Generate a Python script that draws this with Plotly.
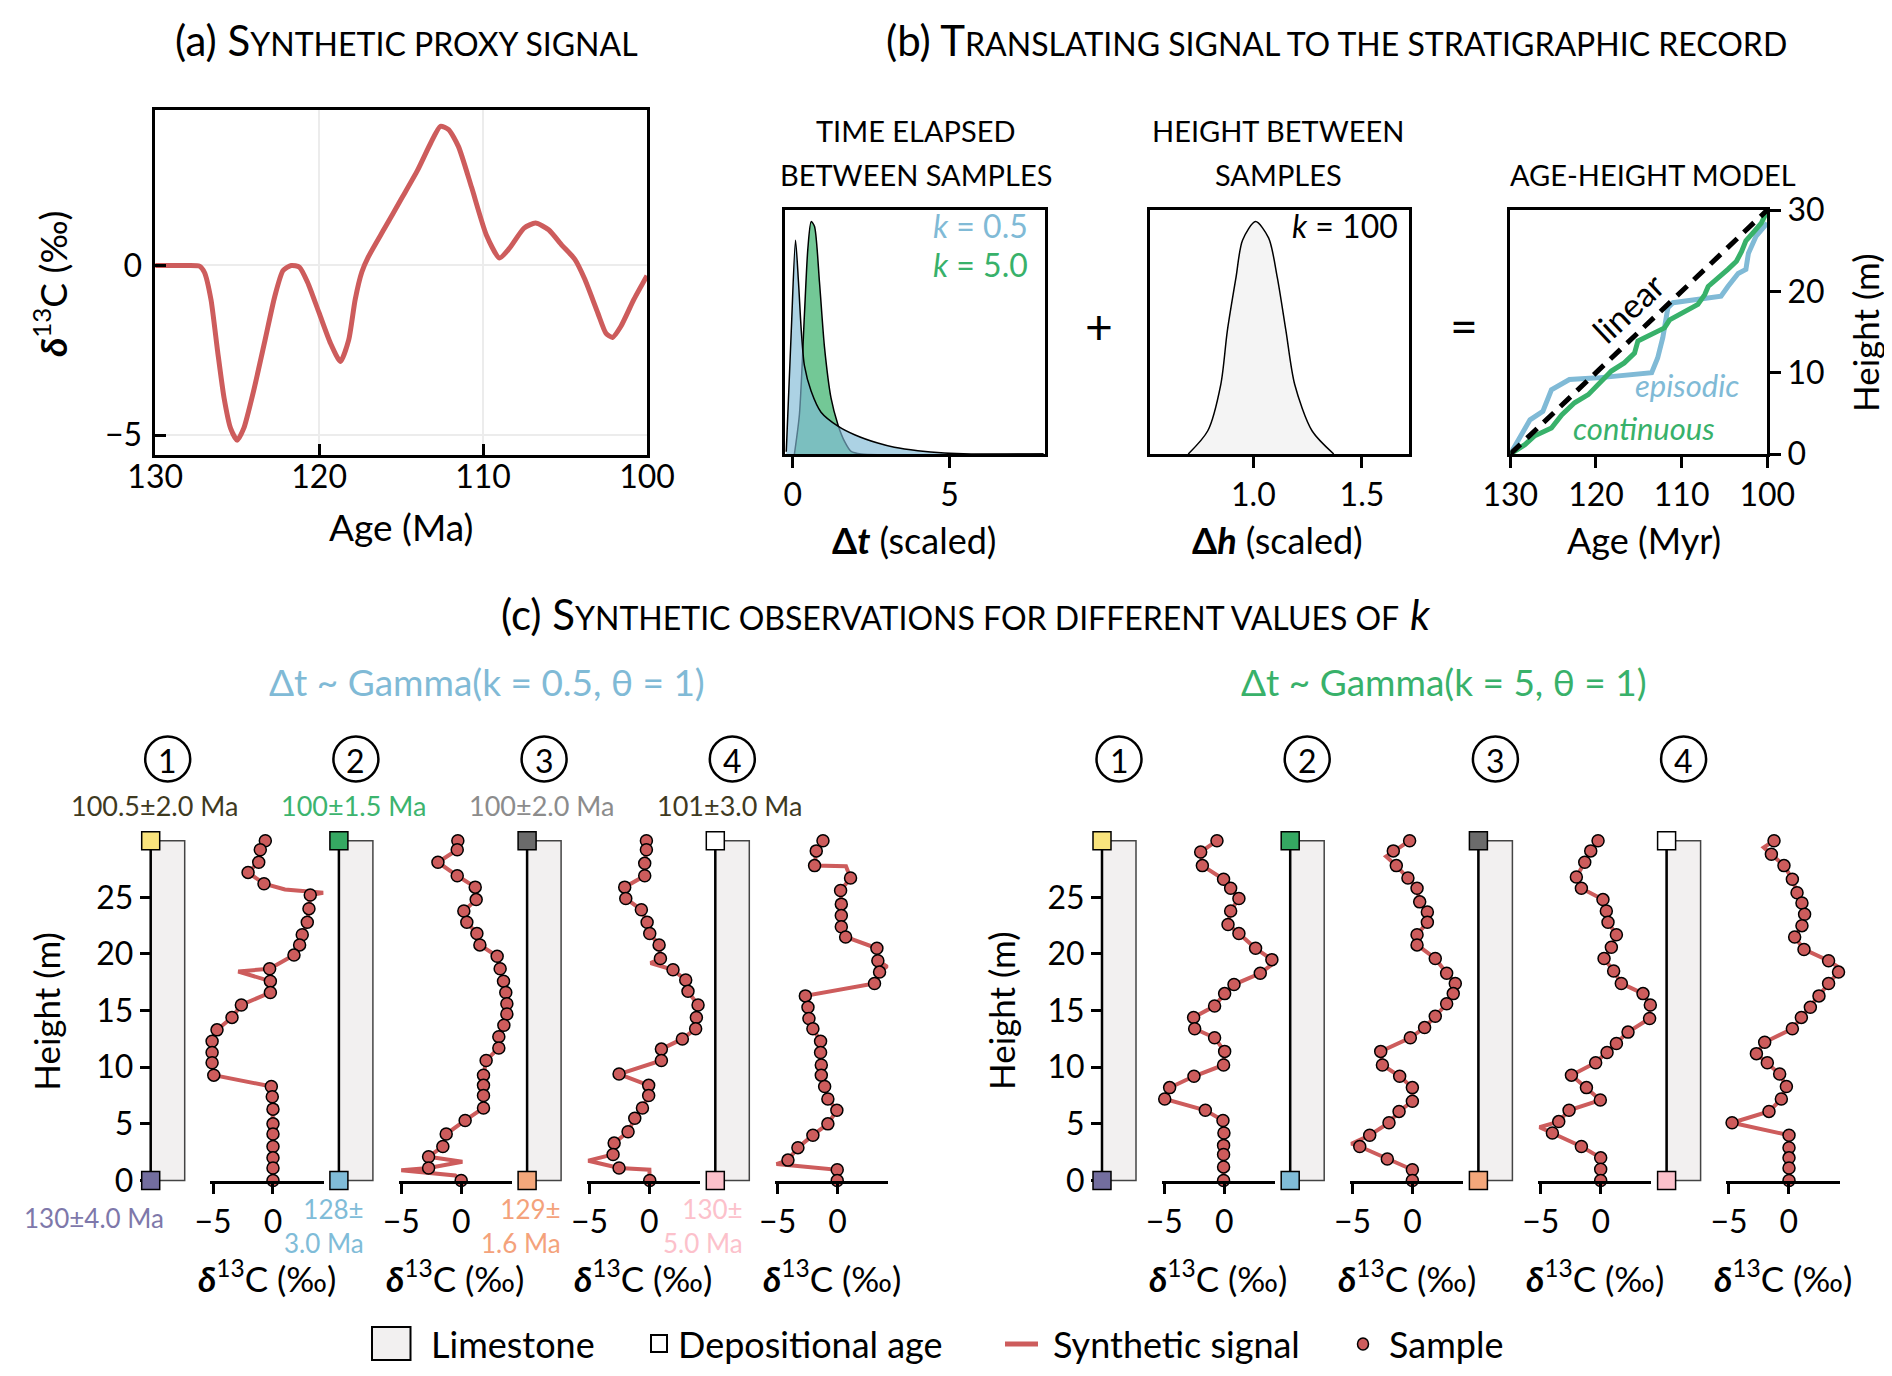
import plotly.graph_objects as go

W, H = 1892, 1376
FONT = "Lato, 'Noto Sans', 'DejaVu Sans', sans-serif"
RED = "#cd5c5c"
BLUE = "#80bad6"
GREEN = "#38b16a"

# (a) synthetic proxy signal
signal_age = [130, 128, 127.3, 127.0, 126.6, 126.2, 125.8, 125.4, 125.0, 124.6,
              124.0, 123.3, 122.7, 122.2, 121.7, 121.2, 120.7, 120.0, 119.3, 118.7,
              118.2, 117.8, 117.4, 117.0, 116.0, 115.0, 114.0, 113.2, 112.6, 112.1,
              111.5, 110.7, 109.8, 109.0, 108.4, 107.5, 106.8, 106.0, 105.2, 104.4,
              103.8, 103.0, 102.5, 102.1, 101.6, 100.8, 100.0]
signal_d13c = [0, 0, -0.02, -0.2, -1.0, -2.5, -3.9, -4.8, -5.15, -4.8,
               -3.7, -2.2, -0.9, -0.15, 0.0, -0.05, -0.5, -1.4, -2.3, -2.83,
               -2.2, -1.0, -0.2, 0.25, 1.1, 1.95, 2.8, 3.6, 4.1, 4.0,
               3.5, 2.3, 0.9, 0.22, 0.5, 1.1, 1.25, 1.05, 0.6, 0.18,
               -0.4, -1.4, -2.0, -2.12, -1.8, -1.0, -0.3]

# (b) time elapsed between samples (density, scaled)
dt_k05_x = [-0.21, -0.05, 0.085, 0.18, 0.27, 0.37, 0.585, 0.9, 1.44, 1.97, 2.71, 3.24, 3.99, 4.84, 5.69, 8.0]
dt_k05_y = [0.01, 0.53, 0.92, 0.74, 0.53, 0.38, 0.27, 0.18, 0.12, 0.083, 0.047, 0.029, 0.014, 0.004, 0.0, 0.0]
dt_k5_x = [0.05, 0.21, 0.37, 0.48, 0.585, 0.69, 0.85, 1.01, 1.22, 1.44, 1.65, 1.86, 2.18, 8.0]
dt_k5_y = [0.0, 0.17, 0.6, 0.885, 1.0, 0.98, 0.74, 0.46, 0.24, 0.126, 0.054, 0.011, 0.0, 0.0]

# height between samples
dh_x = [0.70, 0.79, 0.85, 0.88, 0.92, 0.95, 1.01, 1.07, 1.11, 1.15, 1.19, 1.27, 1.37]
dh_y = [0.0, 0.10, 0.30, 0.53, 0.76, 0.92, 1.0, 0.93, 0.76, 0.53, 0.30, 0.10, 0.0]

# age-height models
linear_age = [130, 100]
linear_height = [0, 30]
episodic_age = [130, 128.9, 127.7, 126.2, 125.2, 123.1, 119.8, 113.5, 112.8, 112.2,
                111.6, 111.0, 108.1, 105.4, 104.6, 103.4, 102.5, 102.2, 101.3, 100.0]
episodic_height = [0, 1.97, 4.2, 5.25, 7.9, 9.15, 9.36, 10.0, 11.8, 14.3,
                   18.0, 18.6, 19.0, 19.4, 20.6, 22.2, 22.7, 24.7, 26.8, 28.4]
continuous_age = [130, 128.3, 127.2, 125.2, 124.0, 122.5, 120.9, 119.8, 118.2, 116.7,
                  115.5, 115.1, 113.5, 112.0, 111.4, 109.6, 108.1, 107.3, 106.9, 104.6,
                  103.6, 103.0, 102.5, 101.5, 100.7, 100.0]
continuous_height = [0, 1.15, 2.2, 3.2, 4.8, 6.3, 7.3, 8.5, 10.2, 11.2,
                     12.4, 13.9, 14.7, 15.5, 16.5, 17.6, 18.4, 19.6, 20.6, 22.7,
                     23.7, 24.9, 26.2, 27.4, 28.4, 29.9]

# (c) synthetic sections, k = 0.5
k05_1_height = [30.0, 29.2, 28.1, 27.2, 26.2, 25.2, 24.0, 22.8, 21.7, 20.8, 19.9, 18.7, 17.6, 16.6, 15.5,
                14.4, 13.3, 12.3, 11.3, 10.4, 9.3, 8.3, 7.4, 6.3, 5.0, 4.1, 3.0, 2.0, 1.1, 0.0]
k05_1_d13c = [-0.64, -1.06, -1.19, -2.08, -0.75, 3.11, 3.0, 2.86, 2.44, 2.22, 1.75, -0.28, -0.22, -0.22, -2.64,
              -3.42, -4.67, -5.08, -5.08, -5.08, -4.94, -0.14, -0.06, 0, 0, 0, 0, 0, 0, 0]
k05_1_extra_height = [25.7, 25.4, 18.45]
k05_1_extra_d13c = [1.0, 4.2, -2.9]

k05_2_height = [30.0, 29.2, 28.1, 26.9, 25.9, 24.8, 23.8, 22.8, 21.8, 20.8, 19.8, 18.7, 17.6, 16.6, 15.6,
                14.7, 13.7, 12.7, 11.7, 10.6, 9.3, 8.4, 7.5, 6.4, 5.3, 4.1, 3.0, 2.1, 1.1, 0.0]
k05_2_d13c = [-0.28, -0.33, -1.94, -0.33, 1.17, 1.25, 0.22, 0.47, 1.31, 1.56, 3.0, 3.25, 3.53, 3.72, 3.81,
              3.81, 3.56, 3.14, 3.14, 2.08, 1.86, 1.86, 1.86, 1.86, 0.33, -1.25, -1.53, -2.72, -2.72, 0.0]
k05_2_extra_height = [1.65, 0.9, 0.45]
k05_2_extra_d13c = [0.1, -5.0, -0.5]

k05_3_height = [30.0, 29.2, 28.0, 26.9, 25.9, 24.9, 23.9, 22.8, 21.8, 20.8, 19.6, 18.6, 17.7, 16.7, 15.5,
                14.4, 13.4, 12.5, 11.6, 10.6, 9.4, 8.4, 7.5, 6.4, 5.5, 4.3, 3.3, 2.3, 1.1, 0.0]
k05_3_d13c = [-0.25, -0.25, -0.39, -0.39, -2.06, -1.97, -0.67, -0.19, 0.03, 0.81, 0.92, 1.97, 3.03, 3.22, 4.06,
              3.92, 3.86, 2.75, 1.0, 1.0, -2.53, -0.06, -0.06, -0.58, -1.22, -1.78, -2.94, -3.03, -2.53, 0.03]
k05_3_extra_height = [19.2, 1.75, 0.95]
k05_3_extra_d13c = [0.1, -5.1, 0.0]

k05_4_height = [30.0, 29.1, 27.8, 26.7, 25.6, 24.4, 23.4, 22.4, 21.5, 20.5, 19.4, 18.4, 17.4, 16.3, 15.3,
                14.3, 13.4, 12.3, 11.3, 10.2, 9.3, 8.3, 7.2, 6.2, 5.0, 4.0, 2.9, 1.8, 0.95, 0.0]
k05_4_d13c = [-1.22, -1.78, -1.92, 1.08, 0.25, 0.31, 0.31, 0.31, 0.67, 3.28, 3.36, 3.5, 3.08, -2.69, -2.47,
              -2.39, -2.06, -1.42, -1.42, -1.36, -1.36, -1.08, -0.81, -0.06, -0.81, -2.06, -3.31, -4.14, -0.03, -0.03]
k05_4_extra_height = [27.75, 18.9, 1.45]
k05_4_extra_d13c = [0.7, 4.1, -5.1]

# (c) synthetic sections, k = 5
k5_1_height = [30.0, 29.0, 27.8, 26.6, 25.8, 24.9, 23.8, 22.6, 21.8, 20.5, 19.5, 18.3, 17.3, 16.5, 15.4,
               14.4, 13.4, 12.6, 11.4, 10.2, 9.2, 8.2, 7.2, 6.2, 5.3, 4.2, 3.1, 2.3, 1.2, 0.0]
k5_1_d13c = [-0.61, -1.97, -1.83, -0.06, 0.53, 1.22, 0.53, 0.31, 1.22, 2.61, 3.97, 3.0, 0.81, 0.03, -0.81,
             -2.56, -2.47, -0.81, 0.03, -0.06, -2.53, -4.56, -4.97, -1.58, -0.11, -0.03, -0.06, -0.06, -0.06, -0.06]
k5_1_extra_height = [19.45]
k5_1_extra_d13c = [4.45]

k5_2_height = [30.0, 29.1, 27.8, 26.7, 25.8, 24.6, 23.7, 22.8, 21.7, 20.8, 19.6, 18.3, 17.4, 16.5, 15.6,
               14.5, 13.5, 12.6, 11.4, 10.2, 9.2, 8.2, 7.0, 6.1, 5.1, 4.0, 3.0, 1.9, 0.95, 0.0]
k5_2_d13c = [-0.24, -1.6, -1.35, -0.38, 0.38, 0.6, 1.24, 1.24, 0.38, 0.38, 1.9, 2.85, 3.57, 3.4, 2.85,
             1.9, 1.01, -0.18, -2.65, -2.51, -1.07, -0.01, -0.01, -1.12, -1.96, -3.57, -4.4, -2.1, -0.01, -0.01]
k5_2_extra_height = [28.6, 17.1, 3.25]
k5_2_extra_d13c = [-2.2, 3.8, -5.1]

k5_3_height = [30.0, 29.1, 28.1, 26.8, 25.8, 24.8, 23.8, 22.8, 21.7, 20.6, 19.6, 18.5, 17.4, 16.5, 15.5,
               14.3, 13.1, 12.1, 11.3, 10.4, 9.3, 8.2, 7.1, 6.2, 5.2, 4.2, 3.0, 2.0, 1.0, 0.0]
k5_3_d13c = [-0.22, -0.83, -1.33, -2.03, -1.61, 0.19, 0.47, 0.61, 1.31, 0.89, 0.28, 1.08, 1.72, 3.53, 4.14,
             4.08, 2.28, 1.31, 0.53, -0.42, -2.44, -1.19, -0.03, -2.64, -3.5, -4.03, -1.61, 0.0, 0.0, 0.0]
k5_3_extra_height = [4.7]
k5_3_extra_d13c = [-5.1]

k5_4_height = [30.0, 28.8, 27.8, 26.6, 25.4, 24.5, 23.5, 22.5, 21.5, 20.4, 19.4, 18.4, 17.4, 16.3, 15.3,
               14.4, 13.4, 12.2, 11.2, 10.4, 9.4, 8.3, 7.2, 6.1, 5.1, 4.0, 2.9, 2.0, 1.1, 0.0]
k5_4_d13c = [-1.24, -1.46, -0.41, 0.29, 0.68, 1.09, 1.31, 1.09, 0.48, 1.26, 3.31, 4.14, 3.31, 2.51, 1.79,
             1.04, 0.29, -2.02, -2.71, -1.8, -0.77, -0.21, -0.63, -1.66, -4.74, 0.01, 0.01, 0.01, 0.01, 0.01]
k5_4_extra_height = [29.4, 18.6]
k5_4_extra_d13c = [-2.1, 4.5]

top_ages = ["100.5±2.0 Ma", "100±1.5 Ma", "100±2.0 Ma", "101±3.0 Ma"]
top_age_colors = ["#3f3a1f", "#3cb46e", "#8c8c8c", "#3f3a1f"]
bottom_ages = ["130±4.0 Ma", "128±<br>3.0 Ma", "129±<br>1.6 Ma", "130±<br>5.0 Ma"]
bottom_age_colors = ["#7e78aa", "#80bcd8", "#f4a27b", "#fcc1cb"]
top_square_colors = ["#f9e47d", "#35a862", "#6b6b6b", "#ffffff"]
bottom_square_colors = ["#736e9f", "#80bcd8", "#f4a77b", "#fcc1cb"]


def px(x):
    return x / W


def py(y):
    return 1 - y / H


def note(text, x, y, size, color="black", xanchor="center", yanchor="middle", **kw):
    return dict(text=text, x=px(x), y=py(y), xref="paper", yref="paper", showarrow=False,
                xanchor=xanchor, yanchor=yanchor,
                font=dict(size=size, color=color, family=FONT), **kw)


def smallcaps(label, first, rest, small=32):
    return f"{label} {first}<span style='font-size:{small}px'>{rest}</span>"


def box_axis(**kw):
    ax = dict(showline=True, linecolor="black", linewidth=2.5, mirror=True,
              showgrid=False, zeroline=False, ticks="outside", ticklen=11,
              tickwidth=2.5, tickcolor="black",
              tickfont=dict(size=32, family=FONT, color="black"))
    ax.update(kw)
    return ax


fig = go.Figure()

# ---- (a)
fig.add_trace(go.Scatter(x=signal_age, y=signal_d13c, mode="lines",
                         line=dict(color=RED, width=5, shape="spline", smoothing=0.6),
                         xaxis="x", yaxis="y", showlegend=False))

# ---- (b) distributions
fig.add_trace(go.Scatter(x=dt_k5_x, y=dt_k5_y, mode="lines", fill="tozeroy",
                         fillcolor="rgba(55,177,105,0.7)",
                         line=dict(color="black", width=1.5, shape="spline", smoothing=0.7),
                         xaxis="x2", yaxis="y2", showlegend=False))
fig.add_trace(go.Scatter(x=dt_k05_x, y=dt_k05_y, mode="lines", fill="tozeroy",
                         fillcolor="rgba(128,186,214,0.65)",
                         line=dict(color="black", width=1.5, shape="spline", smoothing=0.7),
                         xaxis="x2", yaxis="y2", showlegend=False))
fig.add_trace(go.Scatter(x=dh_x, y=dh_y, mode="lines", fill="tozeroy", fillcolor="#f4f4f4",
                         line=dict(color="black", width=1.5, shape="spline", smoothing=0.8),
                         xaxis="x3", yaxis="y3", showlegend=False))

# age-height model
fig.add_trace(go.Scatter(x=episodic_age, y=episodic_height, mode="lines",
                         line=dict(color=BLUE, width=5), xaxis="x4", yaxis="y4", showlegend=False))
fig.add_trace(go.Scatter(x=continuous_age, y=continuous_height, mode="lines",
                         line=dict(color=GREEN, width=5), xaxis="x4", yaxis="y4", showlegend=False))
fig.add_trace(go.Scatter(x=linear_age, y=linear_height, mode="lines",
                         line=dict(color="black", width=5, dash="14px,9px"),
                         xaxis="x4", yaxis="y4", showlegend=False))

# ---- (c) sections
left_spines = [142.7, 330.9, 519.1, 707.3]
right_spines = [1094.0, 1282.2, 1470.4, 1658.6]
columns = [
    (left_spines[0], k05_1_height, k05_1_d13c, k05_1_extra_height, k05_1_extra_d13c, "y5"),
    (left_spines[1], k05_2_height, k05_2_d13c, k05_2_extra_height, k05_2_extra_d13c, "y5"),
    (left_spines[2], k05_3_height, k05_3_d13c, k05_3_extra_height, k05_3_extra_d13c, "y5"),
    (left_spines[3], k05_4_height, k05_4_d13c, k05_4_extra_height, k05_4_extra_d13c, "y5"),
    (right_spines[0], k5_1_height, k5_1_d13c, k5_1_extra_height, k5_1_extra_d13c, "y6"),
    (right_spines[1], k5_2_height, k5_2_d13c, k5_2_extra_height, k5_2_extra_d13c, "y6"),
    (right_spines[2], k5_3_height, k5_3_d13c, k5_3_extra_height, k5_3_extra_d13c, "y6"),
    (right_spines[3], k5_4_height, k5_4_d13c, k5_4_extra_height, k5_4_extra_d13c, "y6"),
]

layout_axes = {}
shapes = []
annotations = []
sec_top, sec_bot = 832.7, 1172.5

for i, (spine, hgt, d13c, ext_h, ext_d, yname) in enumerate(columns):
    xname = f"x{i + 5}"
    # signal line: samples plus the excursions between them, ordered by height
    pts = sorted(zip(hgt + ext_h, d13c + ext_d), reverse=True)
    fig.add_trace(go.Scatter(x=[p[1] for p in pts], y=[p[0] for p in pts], mode="lines",
                             line=dict(color=RED, width=4), cliponaxis=False,
                             xaxis=xname, yaxis=yname, showlegend=False))
    fig.add_trace(go.Scatter(x=d13c, y=hgt, mode="markers", cliponaxis=False,
                             marker=dict(size=12, color=RED, line=dict(color="black", width=1.5)),
                             xaxis=xname, yaxis=yname, showlegend=False))
    layout_axes[f"xaxis{i + 5}"] = dict(
        domain=[px(spine + 59.6), px(spine + 173)], range=[-5.23, 4.23], anchor=yname,
        tickvals=[-5, 0], showline=True, linecolor="black", linewidth=2.5,
        ticks="outside", ticklen=11, tickwidth=2.5, tickcolor="black",
        showgrid=False, zeroline=False,
        tickfont=dict(size=32, family=FONT, color="black"))

    # limestone bar, spine and depositional-age squares
    shapes.append(dict(type="rect", xref="paper", yref="paper", x0=px(spine), x1=px(spine + 34),
                       y0=py(sec_bot), y1=py(sec_top), fillcolor="#f2f0f0",
                       line=dict(color="#444444", width=1.5), layer="below"))
    shapes.append(dict(type="line", xref="paper", yref="paper", x0=px(spine), x1=px(spine),
                       y0=py(sec_bot), y1=py(sec_top), line=dict(color="black", width=2.5)))
    j = i % 4
    for yv, col in ((sec_top, top_square_colors[j]), (sec_bot, bottom_square_colors[j])):
        shapes.append(dict(type="rect", xref="paper", yref="paper", xsizemode="pixel",
                           ysizemode="pixel", xanchor=px(spine), yanchor=py(yv),
                           x0=-9, x1=9, y0=-9, y1=9, fillcolor=col,
                           line=dict(color="black", width=1.5)))

    # circled column number
    cx, cy, r = spine + 17, 751, 22.5
    shapes.append(dict(type="circle", xref="paper", yref="paper",
                       x0=px(cx - r), x1=px(cx + r), y0=py(cy + r), y1=py(cy - r),
                       line=dict(color="black", width=2.5)))
    annotations.append(note(str(j + 1), cx, cy + 1, 32))
    annotations.append(note("<b><i>δ</i></b><sup>13</sup>C (‰)", spine + 116.3, 1268, 35))

    if i < 4:
        annotations.append(note(top_ages[j], spine + 89, 797, 27, top_age_colors[j], xanchor="right"))

bottom_x = [158.3, 358.3, 555.0, 736.7]
bottom_y = [1210, 1218, 1218, 1218]
for j in range(4):
    annotations.append(note(bottom_ages[j], bottom_x[j], bottom_y[j], 26, bottom_age_colors[j],
                            xanchor="right", align="right"))

height_axis = dict(domain=[py(sec_bot), py(sec_top)], range=[0, 30], anchor="free",
                   tickvals=[0, 5, 10, 15, 20, 25], ticks="outside", ticklen=11,
                   tickwidth=2.5, tickcolor="black", showline=False, showgrid=False,
                   zeroline=False, tickfont=dict(size=32, family=FONT, color="black"))
layout_axes["yaxis5"] = dict(height_axis, position=px(left_spines[0]))
layout_axes["yaxis6"] = dict(height_axis, position=px(right_spines[0]))

# ---- titles and labels
annotations += [
    note(smallcaps("(a)", "S", "YNTHETIC PROXY SIGNAL"), 398, 32, 42),
    note(smallcaps("(b)", "T", "RANSLATING SIGNAL TO THE STRATIGRAPHIC RECORD"), 1328, 32, 42),
    note(smallcaps("(c)", "S", "YNTHETIC OBSERVATIONS FOR DIFFERENT VALUES OF") + " <i>k</i>", 958, 606, 42),
    note("<b><i>δ</i></b><sup>13</sup>C (‰)", 42, 276, 37, textangle=-90),
    note("Age (Ma)", 393, 519, 37),
    note("TIME ELAPSED", 908, 123, 29),
    note("BETWEEN SAMPLES", 908, 166, 29),
    note("HEIGHT BETWEEN", 1270, 123, 29),
    note("SAMPLES", 1270, 166, 29),
    note("AGE-HEIGHT MODEL", 1645, 166, 29),
    note("<i>k</i> = 0.5", 1022, 218, 32, BLUE, xanchor="right"),
    note("<i>k</i> = 5.0", 1022, 257, 32, GREEN, xanchor="right"),
    note("<i>k</i> = 100", 1392, 218, 32, xanchor="right"),
    note("+", 1091, 318, 48),
    note("=", 1456, 318, 48),
    note("<b>Δ<i>t</i></b> (scaled)", 906, 532, 36),
    note("<b>Δ<i>h</i></b> (scaled)", 1269, 532, 36),
    note("Age (Myr)", 1636, 532, 36),
    note("Height (m)", 1857, 325, 35, textangle=-90),
    note("linear", 1620, 300, 34, textangle=-43),
    note("<i>episodic</i>", 1679, 377, 31, BLUE),
    note("<i>continuous</i>", 1636, 420, 31, GREEN),
    note("Δt ~ Gamma(k = 0.5, θ = 1)", 479, 673, 37, BLUE),
    note("Δt ~ Gamma(k = 5, θ = 1)", 1436, 673, 37, GREEN),
    note("Height (m)", left_spines[0] - 105, 1003, 35, textangle=-90),
    note("Height (m)", right_spines[0] - 101, 1003, 35, textangle=-90),
    # legend
    note("Limestone", 421, 1336, 36, xanchor="left"),
    note("Depositional age", 668, 1336, 36, xanchor="left"),
    note("Synthetic signal", 1043, 1336, 36, xanchor="left"),
    note("Sample", 1379, 1336, 36, xanchor="left"),
]

shapes += [
    dict(type="rect", xref="paper", yref="paper", x0=px(364), x1=px(402.5), y0=py(1352), y1=py(1319),
         fillcolor="#f2f0f0", line=dict(color="black", width=2)),
    dict(type="rect", xref="paper", yref="paper", x0=px(643), x1=px(659), y0=py(1344), y1=py(1327),
         fillcolor="white", line=dict(color="black", width=2)),
    dict(type="line", xref="paper", yref="paper", x0=px(997), x1=px(1030), y0=py(1336), y1=py(1336),
         line=dict(color=RED, width=5)),
    dict(type="circle", xref="paper", yref="paper", x0=px(1349.5), x1=px(1360.5), y0=py(1342), y1=py(1330),
         fillcolor=RED, line=dict(color="black", width=1.5)),
]

fig.update_layout(
    width=W, height=H,
    margin=dict(l=0, r=0, t=0, b=0),
    template="none",
    paper_bgcolor="white", plot_bgcolor="white",
    showlegend=False,
    font=dict(family=FONT, color="black"),
    xaxis=box_axis(domain=[px(147.2), px(639)], range=[130, 100], tickvals=[130, 120, 110, 100],
                   ticks="inside", showgrid=True, gridcolor="#ececec", gridwidth=1.5,
                   ticklabelstandoff=-8, anchor="y"),
    yaxis=box_axis(domain=[py(446.9), py(102.3)], range=[-5.58, 4.57], tickvals=[-5, 0],
                   ticks="inside", showgrid=True, gridcolor="#ececec", gridwidth=1.5,
                   ticklabelstandoff=4, anchor="x"),
    xaxis2=box_axis(domain=[px(776.7), px(1036.7)], range=[-0.26, 8.04], tickvals=[0, 5], anchor="y2"),
    yaxis2=box_axis(domain=[py(446), py(202)], range=[0, 1.05], ticks="", showticklabels=False, anchor="x2"),
    xaxis3=box_axis(domain=[px(1141.6), px(1401.3)], range=[0.522, 1.718], tickvals=[1.0, 1.5],
                    ticktext=["1.0", "1.5"], anchor="y3"),
    yaxis3=box_axis(domain=[py(446), py(202)], range=[0, 1.05], ticks="", showticklabels=False, anchor="x3"),
    xaxis4=box_axis(domain=[px(1502.3), px(1759.3)], range=[130, 100], tickvals=[130, 120, 110, 100],
                    anchor="y4"),
    yaxis4=box_axis(domain=[py(446), py(202)], range=[0, 30], tickvals=[0, 10, 20, 30], side="right",
                    anchor="x4"),
    shapes=shapes,
    annotations=annotations,
    **layout_axes,
)

fig.write_html("out.html")
